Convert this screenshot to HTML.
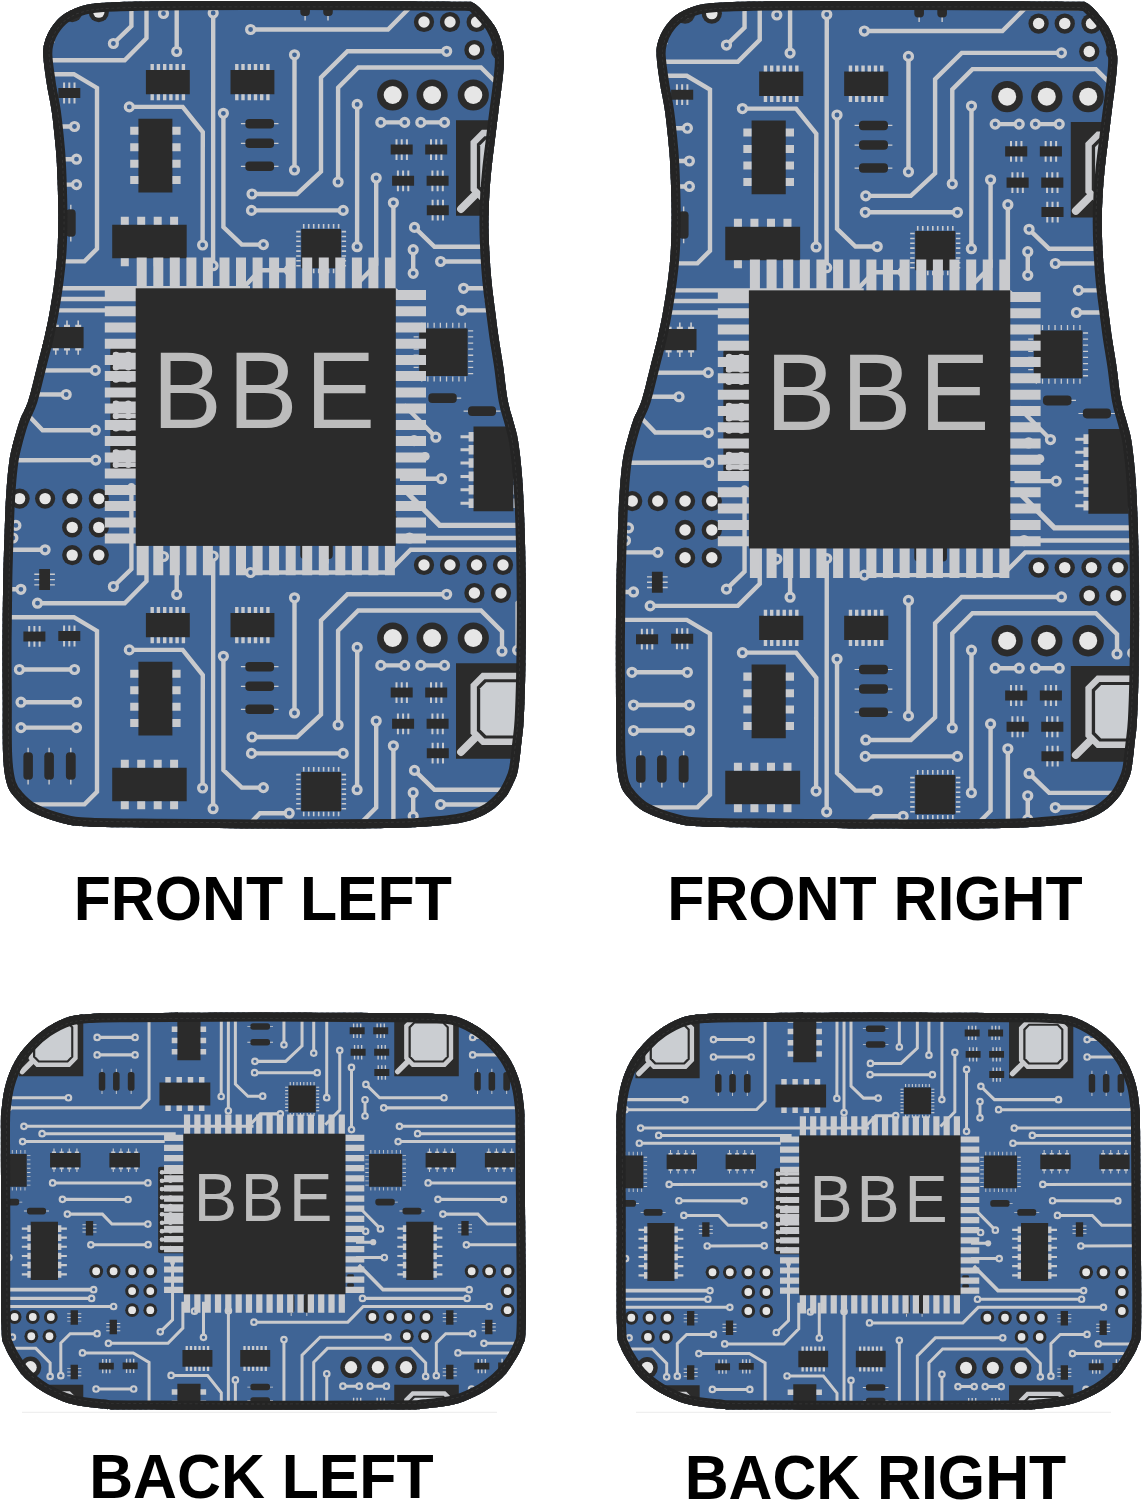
<!DOCTYPE html><html><head><meta charset="utf-8"><title>Car mats</title>
<style>html,body{margin:0;padding:0;background:#fff}svg{display:block}text{font-family:"Liberation Sans",sans-serif}</style></head><body>
<svg width="1142" height="1500" viewBox="0 0 1142 1500">
<defs>
<path id="fo" d="M100,3.1C110.5,2.2 127,1.9 142,1.6C157,1.3 168.1,1.2 190,1.1C211.9,1 245.7,1 273.5,1C301.3,1 332.6,1 357,1.1C381.4,1.2 402,1.3 420,1.4C438,1.5 456.2,1.5 465,1.7C473.8,1.9 470.3,1.6 472.5,2.4C474.7,3.2 475.7,4.1 478,6.3C480.3,8.5 483.7,12 486.5,15.4C489.3,18.8 492.6,22.6 494.9,26.6C497.2,30.6 499.1,34.8 500.5,39.2C501.9,43.6 503.1,48.7 503.6,53.2C504.2,57.7 504.1,60.9 503.8,66C503.5,71.1 502.9,76.3 502,84C501.1,91.7 499.6,102.7 498.4,112C497.2,121.3 496,130.7 494.9,140C493.8,149.3 492.4,158.8 491.5,168C490.6,177.2 489.8,186 489.3,195C488.8,204 488.5,212.8 488.5,222C488.5,231.2 488.8,240.3 489.3,250C489.8,259.7 490.4,270 491.4,280C492.3,290 493.8,300.7 495,310C496.2,319.3 497.1,326.8 498.4,336C499.7,345.2 501.4,354.3 503,365C504.6,375.7 505.9,390.5 507.7,400C509.4,409.5 511.7,414.9 513.5,422C515.3,429.1 516.9,432.2 518.4,442.7C519.9,453.2 521.6,467.3 522.7,485C523.8,502.7 524.7,527.7 525.2,549C525.7,570.3 525.9,591.7 525.9,613C525.9,634.3 525.6,659.2 525.2,677C524.8,694.8 524.3,709.2 523.7,720C523.1,730.8 522.5,733.7 521.5,742C520.5,750.3 519.4,763 518,770C516.6,777 515.2,779.3 513,784C510.8,788.7 508.7,793.3 504.7,798C500.7,802.7 495.8,808 489,812C482.2,816 475.2,819.5 464,822C452.8,824.5 436,825.8 422,826.8C408,827.8 404.5,827.9 380,828.2C355.5,828.5 311.7,828.7 275,828.6C238.3,828.5 190.7,828.1 160,827.8C129.3,827.5 107.2,827.5 91,826.8C74.8,826 72.8,825.8 63,823.3C53.2,820.8 39.9,816.2 32,812C24.1,807.8 19.6,802.7 15.4,798C11.2,793.3 9.1,791 7,784C4.9,777 3.8,770 3.1,756C2.4,742 2.8,719.3 2.7,700C2.6,680.7 2.4,660 2.5,640C2.6,620 2.8,600 3.2,580C3.6,560 4.5,535 5,520C5.5,505 5.8,500 6.5,490C7.2,480 8.2,468.3 9.5,460C10.8,451.7 12.2,446.7 14,440C15.8,433.3 17.6,426.7 20,420C22.4,413.3 25.6,409.2 28.5,400C31.4,390.8 34.8,375.7 37.5,365C40.2,354.3 42.7,345.2 44.8,336C46.9,326.8 48.4,319.3 50,310C51.6,300.7 53.4,290 54.6,280C55.9,270 56.9,260.8 57.5,250C58.1,239.2 58.3,226.7 58.3,215C58.3,203.3 57.9,190.8 57.5,180C57.1,169.2 56.9,161.3 55.9,150C54.9,138.7 53.3,123 51.8,112C50.3,101 48.2,93.3 46.8,84C45.4,74.7 43.6,63 43.3,56C42.9,49 43.4,46.7 44.7,42C46,37.3 48.1,32.4 51,28C53.9,23.6 57.5,18.9 62.2,15.4C66.9,11.9 72.7,9.1 79,7C85.3,4.9 89.5,4 100,3.1Z"/>
<path id="bo" d="M130,1013.1C158.7,1012.9 218.7,1012.5 263,1012.5C307.3,1012.5 367.3,1012.9 396,1013.1C424.7,1013.3 424.7,1013.2 435,1013.9C445.3,1014.5 450.1,1014.6 457.7,1017C465.3,1019.4 473.9,1024.1 480.5,1028.5C487.1,1032.9 492.4,1037.8 497.5,1043.3C502.6,1048.8 507.4,1054.7 511.2,1061.5C515,1068.3 518.2,1076.5 520.3,1084.2C522.4,1092 523.3,1100.4 524,1108C524.7,1115.6 524.4,1111.3 524.6,1130C524.8,1148.7 525,1187.7 525.2,1220C525.4,1252.3 526.3,1302.8 525.8,1324C525.3,1345.2 524.8,1339.4 522,1347C519.2,1354.6 512.7,1364 508.8,1369.7C504.9,1375.4 502.9,1377.2 498.5,1381C494.1,1384.8 489.6,1388.6 482.6,1392.4C475.6,1396.2 466.1,1401.1 456.4,1403.8C446.7,1406.5 434.5,1407.5 424.6,1408.4C414.7,1409.4 423.9,1409.3 397,1409.5C370.1,1409.7 307.5,1409.8 263,1409.8C218.5,1409.8 156.8,1409.7 130,1409.5C103.2,1409.3 112.3,1409.4 102.4,1408.4C92.5,1407.5 80.3,1406.5 70.6,1403.8C60.9,1401.1 51.4,1396.2 44.4,1392.4C37.4,1388.6 32.9,1384.8 28.5,1381C24.1,1377.2 22.1,1375.4 18.2,1369.7C14.3,1364 7.8,1354.6 5,1347C2.2,1339.4 2,1345.2 1.4,1324C0.8,1302.8 1.3,1252.3 1.2,1220C1.1,1187.7 0.8,1148.7 0.9,1130C1,1111.3 0.9,1115.6 1.7,1108C2.5,1100.4 3.5,1092 5.7,1084.2C7.9,1076.5 11,1068.3 14.8,1061.5C18.6,1054.7 23.4,1048.8 28.5,1043.3C33.6,1037.8 38.9,1032.9 45.5,1028.5C52.1,1024.1 60.7,1019.4 68.3,1017C75.9,1014.6 80.7,1014.5 91,1013.9C101.3,1013.2 101.3,1013.3 130,1013.1Z"/>
<clipPath id="cf"><use href="#fo"/></clipPath>
<clipPath id="cb"><use href="#bo"/></clipPath>
<g id="tile"><path d="M113.4,43.5L131.4,26L131.4,-56M37.5,60.2L124.7,60.2L146.5,38.2L146.5,0M176.7,51.5L176.7,0M213.2,13L213.1,265.7M250.6,29.5L388,29.5L410.6,6.8L594.9,6.8M294.5,54.8L294.5,170M446.7,51.3L347.5,51.3L321,77.5L321,171.5L296.9,194L252,194M338.1,182L338.1,87.7L358.2,67.5L481,67.5L502,88.5L502,108.2M357.2,104.4L357.1,246.7M380.8,122.4L404.7,122.4M420.8,122.4L444.5,122.4M376.2,178L376.2,264.6L355,286M393.4,202.8L393.4,293M414.5,227.4L434.5,246.8L528.8,246.8M413.2,249.7L413.2,273.3M440.6,261.5L634.3,261.3L646.8,248.8L646.8,87.9L623.7,74.2L549.3,74.2M463.6,288.3L799.8,288.3M490.2,299L685.8,299M461.7,310.4L669.8,310.4M505.6,370.5L645.1,370.4M520,394.3L616,394.5M527.2,415.7L578.5,415.7L592.4,430.2L645.1,430.2M561.6,460.3L645.5,460.1M409.5,538L562.7,538M570.7,46.3L531.3,46.3L517.6,59.8L517.6,107.2M19.4,126.5L74.5,126.5M21,159.2L76.5,159.2M21,184.6L76.5,184.6M129.3,106.9L182.7,106.9L202.8,132L202.6,245M223.4,113.3L223.4,227L241.8,244.6L263.4,244.6M251.5,210.4L343.2,210.4M289.2,270.2L259.9,270.2L244,287M435.8,437.2L404,405M441.5,478.7L400,478.7M400,456.4L425.2,456.4" fill="none" stroke="#c9cacd" stroke-width="4.4" stroke-linejoin="miter"/><path d="M404,489.5L439.7,525.4L565.7,525.4" fill="none" stroke="#c9cacd" stroke-width="5.3" stroke-linejoin="miter"/><g fill="#3f6495" stroke="#c9cacd" stroke-width="3.2"><circle cx="113.4" cy="43.5" r="4"/><circle cx="37.5" cy="60.2" r="4"/><circle cx="163.5" cy="13.5" r="4"/><circle cx="176.7" cy="51.5" r="4"/><circle cx="213.2" cy="13" r="4"/><circle cx="213.1" cy="265.7" r="4"/><circle cx="250.6" cy="29.5" r="4"/><circle cx="594.9" cy="6.8" r="4"/><circle cx="294.5" cy="54.8" r="4"/><circle cx="294.5" cy="170" r="4"/><circle cx="446.7" cy="51.3" r="4"/><circle cx="252" cy="194" r="4"/><circle cx="338.1" cy="182" r="4"/><circle cx="502" cy="108.2" r="4"/><circle cx="357.2" cy="104.4" r="4"/><circle cx="357.1" cy="246.7" r="4"/><circle cx="380.8" cy="122.4" r="4"/><circle cx="404.7" cy="122.4" r="4"/><circle cx="420.8" cy="122.4" r="4"/><circle cx="444.5" cy="122.4" r="4"/><circle cx="376.2" cy="178" r="4"/><circle cx="393.4" cy="202.8" r="4"/><circle cx="393.4" cy="293" r="4"/><circle cx="414.5" cy="227.4" r="4"/><circle cx="528.8" cy="246.8" r="4"/><circle cx="413.2" cy="249.7" r="4"/><circle cx="413.2" cy="273.3" r="4"/><circle cx="440.6" cy="261.5" r="4"/><circle cx="549.3" cy="74.2" r="4"/><circle cx="463.6" cy="288.3" r="4"/><circle cx="490.2" cy="299" r="4"/><circle cx="461.7" cy="310.4" r="4"/><circle cx="505.6" cy="370.5" r="4"/><circle cx="645.1" cy="370.4" r="4"/><circle cx="520" cy="394.3" r="4"/><circle cx="616" cy="394.5" r="4"/><circle cx="527.2" cy="415.7" r="4"/><circle cx="645.1" cy="430.2" r="4"/><circle cx="561.6" cy="460.3" r="4"/><circle cx="645.5" cy="460.1" r="4"/><circle cx="565.7" cy="525.4" r="4"/><circle cx="409.5" cy="538" r="4"/><circle cx="562.7" cy="538" r="4"/><circle cx="570.7" cy="46.3" r="4"/><circle cx="517.6" cy="107.2" r="4"/><circle cx="19.4" cy="126.5" r="4"/><circle cx="74.5" cy="126.5" r="4"/><circle cx="21" cy="159.2" r="4"/><circle cx="76.5" cy="159.2" r="4"/><circle cx="21" cy="184.6" r="4"/><circle cx="76.5" cy="184.6" r="4"/><circle cx="129.3" cy="106.9" r="4"/><circle cx="202.6" cy="245" r="4"/><circle cx="223.4" cy="113.3" r="4"/><circle cx="263.4" cy="244.6" r="4"/><circle cx="251.5" cy="210.4" r="4"/><circle cx="343.2" cy="210.4" r="4"/><circle cx="289.2" cy="270.2" r="4"/><circle cx="435.8" cy="437.2" r="4"/><circle cx="441.5" cy="478.7" r="4"/><circle cx="414.1" cy="440.6" r="4"/></g><g fill="#2b2b2b"><path d="M145.9,70h43.9v24.3h-43.9zM230.5,70h43.9v24.3h-43.9zM138.4,118.8h34v73.6h-34zM112.2,224.8h74.5v33.4h-74.5zM390.7,144.6h22v10h-22zM425.2,144.6h22v10h-22zM392.1,175.8h22v10h-22zM426.6,175.8h22v10h-22zM426.8,205.2h22v10h-22zM58.3,88h22v10h-22zM23.4,88.4h22v10h-22zM39.2,569.1h10.8v21h-10.8zM531.9,555.2h10.8v21h-10.8zM554.2,425.8h10.8v21h-10.8zM531.9,91.4h10.8v21h-10.8zM456,120.3h94.5v95.4h-94.5zM301.2,229.1h39.9v39.1h-39.9zM419.2,328.4h48.4v47.6h-48.4zM473.5,426.6h40v84.7h-40zM501.9,326.9h44.7v21.3h-44.7zM588.7,326.9h44.7v21.3h-44.7z"/><circle cx="392.7" cy="95" r="15.6"/><circle cx="432.1" cy="95" r="15.6"/><circle cx="473.3" cy="95" r="15.6"/><circle cx="19.6" cy="498.6" r="10.1"/><circle cx="45.1" cy="498.6" r="10.1"/><circle cx="72.2" cy="498.6" r="10.1"/><circle cx="98.8" cy="498.6" r="10.1"/><circle cx="72.2" cy="527.4" r="10.1"/><circle cx="98.8" cy="527.4" r="10.1"/><circle cx="72.2" cy="555.1" r="10.1"/><circle cx="98.8" cy="555.1" r="10.1"/><circle cx="424" cy="22" r="10.1"/><circle cx="450" cy="22" r="10.1"/><circle cx="476.6" cy="22" r="10.1"/><circle cx="503" cy="22" r="10.1"/><circle cx="474.4" cy="50" r="10.1"/><circle cx="501" cy="50" r="10.1"/><rect x="245.3" y="119" width="28.8" height="9.4" rx="3.9"/><rect x="245.3" y="138.5" width="28.8" height="9.5" rx="4"/><rect x="245.3" y="161.5" width="28.8" height="9.5" rx="4"/><rect x="428.3" y="393.3" width="28.5" height="9.8" rx="4.1"/><rect x="468" y="406.3" width="28" height="9.8" rx="4.1"/><rect x="23.4" y="209.3" width="9.5" height="27.5" rx="4"/><rect x="44.3" y="209.3" width="9.6" height="27.5" rx="4"/><rect x="65.9" y="209.3" width="9.8" height="27.5" rx="4.1"/><rect x="300.3" y="-11.5" width="9.6" height="27.5" rx="4"/><rect x="323.2" y="-11.5" width="9.6" height="27.5" rx="4"/><rect x="110.3" y="347" width="41" height="125.5" rx="3"/><rect x="387" y="503" width="10" height="5.4" rx="2"/><rect x="387" y="516.2" width="10" height="5.4" rx="2"/></g><path d="M150.5,64h3.4v6h-3.4zM150.5,94.3h3.4v6h-3.4zM156.7,64h3.4v6h-3.4zM156.7,94.3h3.4v6h-3.4zM163,64h3.4v6h-3.4zM163,94.3h3.4v6h-3.4zM169.2,64h3.4v6h-3.4zM169.2,94.3h3.4v6h-3.4zM175.4,64h3.4v6h-3.4zM175.4,94.3h3.4v6h-3.4zM181.7,64h3.4v6h-3.4zM181.7,94.3h3.4v6h-3.4zM235.1,64h3.4v6h-3.4zM235.1,94.3h3.4v6h-3.4zM241.3,64h3.4v6h-3.4zM241.3,94.3h3.4v6h-3.4zM247.6,64h3.4v6h-3.4zM247.6,94.3h3.4v6h-3.4zM253.8,64h3.4v6h-3.4zM253.8,94.3h3.4v6h-3.4zM260,64h3.4v6h-3.4zM260,94.3h3.4v6h-3.4zM266.2,64h3.4v6h-3.4zM266.2,94.3h3.4v6h-3.4zM130.2,126.8h8.2v8h-8.2zM172.4,126.8h8.2v8h-8.2zM130.2,143.3h8.2v8h-8.2zM172.4,143.3h8.2v8h-8.2zM130.2,159.7h8.2v8h-8.2zM172.4,159.7h8.2v8h-8.2zM130.2,176.1h8.2v8h-8.2zM172.4,176.1h8.2v8h-8.2zM120.8,216.8h8v8h-8zM120.8,258.2h8v8h-8zM137.2,216.8h8v8h-8zM137.2,258.2h8v8h-8zM153.7,216.8h8v8h-8zM153.7,258.2h8v8h-8zM170.1,216.8h8v8h-8zM170.1,258.2h8v8h-8zM240.9,123.1h4.4v1.2h-4.4zM274.1,123.1h4.4v1.2h-4.4zM240.9,142.7h4.4v1.2h-4.4zM274.1,142.7h4.4v1.2h-4.4zM240.9,165.7h4.4v1.2h-4.4zM274.1,165.7h4.4v1.2h-4.4zM456.8,397.6h4.4v1.2h-4.4zM463.6,410.6h4.4v1.2h-4.4zM496,410.6h4.4v1.2h-4.4zM27.4,204.7h1.4v4.6h-1.4zM27.4,236.8h1.4v4.6h-1.4zM48.4,204.7h1.4v4.6h-1.4zM48.4,236.8h1.4v4.6h-1.4zM70.1,204.7h1.4v4.6h-1.4zM70.1,236.8h1.4v4.6h-1.4zM304.4,-16.1h1.4v4.6h-1.4zM304.4,16h1.4v4.6h-1.4zM327.3,-16.1h1.4v4.6h-1.4zM327.3,16h1.4v4.6h-1.4zM395.5,139.2h2v5.4h-2zM395.5,154.6h2v5.4h-2zM400.7,139.2h2v5.4h-2zM400.7,154.6h2v5.4h-2zM405.9,139.2h2v5.4h-2zM405.9,154.6h2v5.4h-2zM430,139.2h2v5.4h-2zM430,154.6h2v5.4h-2zM435.2,139.2h2v5.4h-2zM435.2,154.6h2v5.4h-2zM440.4,139.2h2v5.4h-2zM440.4,154.6h2v5.4h-2zM396.9,170.4h2v5.4h-2zM396.9,185.8h2v5.4h-2zM402.1,170.4h2v5.4h-2zM402.1,185.8h2v5.4h-2zM407.3,170.4h2v5.4h-2zM407.3,185.8h2v5.4h-2zM431.4,170.4h2v5.4h-2zM431.4,185.8h2v5.4h-2zM436.6,170.4h2v5.4h-2zM436.6,185.8h2v5.4h-2zM441.8,170.4h2v5.4h-2zM441.8,185.8h2v5.4h-2zM431.6,199.8h2v5.4h-2zM431.6,215.2h2v5.4h-2zM436.8,199.8h2v5.4h-2zM436.8,215.2h2v5.4h-2zM442,199.8h2v5.4h-2zM442,215.2h2v5.4h-2zM63.1,82.6h2v5.4h-2zM63.1,98h2v5.4h-2zM68.3,82.6h2v5.4h-2zM68.3,98h2v5.4h-2zM73.5,82.6h2v5.4h-2zM73.5,98h2v5.4h-2zM28.2,83h2v5.4h-2zM28.2,98.4h2v5.4h-2zM33.4,83h2v5.4h-2zM33.4,98.4h2v5.4h-2zM38.6,83h2v5.4h-2zM38.6,98.4h2v5.4h-2zM34.3,573.6h4.9v1.4h-4.9zM50,573.6h4.9v1.4h-4.9zM34.3,578.9h4.9v1.4h-4.9zM50,578.9h4.9v1.4h-4.9zM34.3,584.2h4.9v1.4h-4.9zM50,584.2h4.9v1.4h-4.9zM527,559.7h4.9v1.4h-4.9zM542.7,559.7h4.9v1.4h-4.9zM527,565h4.9v1.4h-4.9zM542.7,565h4.9v1.4h-4.9zM527,570.3h4.9v1.4h-4.9zM542.7,570.3h4.9v1.4h-4.9zM549.3,430.3h4.9v1.4h-4.9zM565,430.3h4.9v1.4h-4.9zM549.3,435.6h4.9v1.4h-4.9zM565,435.6h4.9v1.4h-4.9zM549.3,440.9h4.9v1.4h-4.9zM565,440.9h4.9v1.4h-4.9zM527,95.9h4.9v1.4h-4.9zM542.7,95.9h4.9v1.4h-4.9zM527,101.2h4.9v1.4h-4.9zM542.7,101.2h4.9v1.4h-4.9zM527,106.5h4.9v1.4h-4.9zM542.7,106.5h4.9v1.4h-4.9zM302.9,224.1h1.6v4.4h-1.6zM302.9,268.8h1.6v4.4h-1.6zM307.9,224.1h1.6v4.4h-1.6zM307.9,268.8h1.6v4.4h-1.6zM312.9,224.1h1.6v4.4h-1.6zM312.9,268.8h1.6v4.4h-1.6zM317.9,224.1h1.6v4.4h-1.6zM317.9,268.8h1.6v4.4h-1.6zM322.8,224.1h1.6v4.4h-1.6zM322.8,268.8h1.6v4.4h-1.6zM327.8,224.1h1.6v4.4h-1.6zM327.8,268.8h1.6v4.4h-1.6zM332.8,224.1h1.6v4.4h-1.6zM332.8,268.8h1.6v4.4h-1.6zM337.8,224.1h1.6v4.4h-1.6zM337.8,268.8h1.6v4.4h-1.6zM296.2,230.8h4.4v1.6h-4.4zM341.7,230.8h4.4v1.6h-4.4zM296.2,235.7h4.4v1.6h-4.4zM341.7,235.7h4.4v1.6h-4.4zM296.2,240.5h4.4v1.6h-4.4zM341.7,240.5h4.4v1.6h-4.4zM296.2,245.4h4.4v1.6h-4.4zM341.7,245.4h4.4v1.6h-4.4zM296.2,250.3h4.4v1.6h-4.4zM341.7,250.3h4.4v1.6h-4.4zM296.2,255.2h4.4v1.6h-4.4zM341.7,255.2h4.4v1.6h-4.4zM296.2,260h4.4v1.6h-4.4zM341.7,260h4.4v1.6h-4.4zM296.2,264.9h4.4v1.6h-4.4zM341.7,264.9h4.4v1.6h-4.4zM421.1,322.8h1.3v5h-1.3zM421.1,376.6h1.3v5h-1.3zM427.2,322.8h1.3v5h-1.3zM427.2,376.6h1.3v5h-1.3zM433.5,322.8h1.3v5h-1.3zM433.5,376.6h1.3v5h-1.3zM439.7,322.8h1.3v5h-1.3zM439.7,376.6h1.3v5h-1.3zM445.9,322.8h1.3v5h-1.3zM445.9,376.6h1.3v5h-1.3zM452.1,322.8h1.3v5h-1.3zM452.1,376.6h1.3v5h-1.3zM458.3,322.8h1.3v5h-1.3zM458.3,376.6h1.3v5h-1.3zM464.5,322.8h1.3v5h-1.3zM464.5,376.6h1.3v5h-1.3zM413.6,330.2h5v1.3h-5zM468.2,330.2h5v1.3h-5zM413.6,336.3h5v1.3h-5zM468.2,336.3h5v1.3h-5zM413.6,342.4h5v1.3h-5zM468.2,342.4h5v1.3h-5zM413.6,348.5h5v1.3h-5zM468.2,348.5h5v1.3h-5zM413.6,354.6h5v1.3h-5zM468.2,354.6h5v1.3h-5zM413.6,360.7h5v1.3h-5zM468.2,360.7h5v1.3h-5zM413.6,366.8h5v1.3h-5zM468.2,366.8h5v1.3h-5zM413.6,372.9h5v1.3h-5zM468.2,372.9h5v1.3h-5zM460.5,435.3h13v3h-13zM468.6,432h4.9v9.6h-4.9zM513.5,435.3h13v3h-13zM513.5,432h4.9v9.6h-4.9zM460.5,448.3h13v3h-13zM468.6,445h4.9v9.6h-4.9zM513.5,448.3h13v3h-13zM513.5,445h4.9v9.6h-4.9zM460.5,461.5h13v3h-13zM468.6,458.2h4.9v9.6h-4.9zM513.5,461.5h13v3h-13zM513.5,458.2h4.9v9.6h-4.9zM460.5,474.9h13v3h-13zM468.6,471.6h4.9v9.6h-4.9zM513.5,474.9h13v3h-13zM513.5,471.6h4.9v9.6h-4.9zM460.5,488.2h13v3h-13zM468.6,484.9h4.9v9.6h-4.9zM513.5,488.2h13v3h-13zM513.5,484.9h4.9v9.6h-4.9zM460.5,501.7h13v3h-13zM468.6,498.4h4.9v9.6h-4.9zM513.5,501.7h13v3h-13zM513.5,498.4h4.9v9.6h-4.9zM506.8,320.4h1.6v6.5h-1.6zM504.6,324.7h6v2.2h-6zM506.8,348.2h1.6v6.5h-1.6zM504.6,348.2h6v2.2h-6zM518,320.4h1.6v6.5h-1.6zM515.8,324.7h6v2.2h-6zM518,348.2h1.6v6.5h-1.6zM515.8,348.2h6v2.2h-6zM529.2,320.4h1.6v6.5h-1.6zM527,324.7h6v2.2h-6zM529.2,348.2h1.6v6.5h-1.6zM527,348.2h6v2.2h-6zM540.4,320.4h1.6v6.5h-1.6zM538.2,324.7h6v2.2h-6zM540.4,348.2h1.6v6.5h-1.6zM538.2,348.2h6v2.2h-6zM593.6,320.4h1.6v6.5h-1.6zM591.4,324.7h6v2.2h-6zM593.6,348.2h1.6v6.5h-1.6zM591.4,348.2h6v2.2h-6zM604.8,320.4h1.6v6.5h-1.6zM602.6,324.7h6v2.2h-6zM604.8,348.2h1.6v6.5h-1.6zM602.6,348.2h6v2.2h-6zM616,320.4h1.6v6.5h-1.6zM613.8,324.7h6v2.2h-6zM616,348.2h1.6v6.5h-1.6zM613.8,348.2h6v2.2h-6zM627.2,320.4h1.6v6.5h-1.6zM625,324.7h6v2.2h-6zM627.2,348.2h1.6v6.5h-1.6zM625,348.2h6v2.2h-6zM113,352.7h37v4.6h-37zM113,364.9h37v4.6h-37zM113,377.1h37v4.6h-37zM113,389.3h37v4.6h-37zM113,401.5h37v4.6h-37zM113,413.7h37v4.6h-37zM113,425.9h37v4.6h-37zM113,438.1h37v4.6h-37zM113,450.3h37v4.6h-37zM113,462.5h37v4.6h-37z" fill="#c9cacd"/><circle cx="131.4" cy="-56.5" r="3.6" fill="#c9cacd"/><circle cx="425.2" cy="456.4" r="4.5" fill="#c9cacd"/><circle cx="392.7" cy="95" r="9" fill="#e6e6e6"/><circle cx="432.1" cy="95" r="9" fill="#e6e6e6"/><circle cx="473.3" cy="95" r="9" fill="#e6e6e6"/><circle cx="19.6" cy="498.6" r="5.7" fill="#e6e6e6"/><circle cx="45.1" cy="498.6" r="5.7" fill="#e6e6e6"/><circle cx="72.2" cy="498.6" r="5.7" fill="#e6e6e6"/><circle cx="98.8" cy="498.6" r="5.7" fill="#e6e6e6"/><circle cx="72.2" cy="527.4" r="5.7" fill="#e6e6e6"/><circle cx="98.8" cy="527.4" r="5.7" fill="#e6e6e6"/><circle cx="72.2" cy="555.1" r="5.7" fill="#e6e6e6"/><circle cx="98.8" cy="555.1" r="5.7" fill="#e6e6e6"/><circle cx="424" cy="22" r="5.7" fill="#e6e6e6"/><circle cx="450" cy="22" r="5.7" fill="#e6e6e6"/><circle cx="476.6" cy="22" r="5.7" fill="#e6e6e6"/><circle cx="503" cy="22" r="5.7" fill="#e6e6e6"/><circle cx="474.4" cy="50" r="5.7" fill="#e6e6e6"/><circle cx="501" cy="50" r="5.7" fill="#e6e6e6"/><path d="M483.2,133L529.6,133L539.1,142.5L539.1,189.3L529.6,198.8L483.2,198.8L473.7,189.3L473.7,142.5Z" fill="none" stroke="#c9cacd" stroke-width="6.4" stroke-linejoin="miter"/><path d="M486.2,139.2L526.8,139.2L532.8,145.2L532.8,186.6L526.8,192.6L486.2,192.6L480.2,186.6L480.2,145.2Z" fill="#cbced2"/><path d="M476.5,736.5L461,752" transform="translate(0,-543)" stroke="#c9cacd" stroke-width="7.8" stroke-linecap="round"/><circle cx="116" cy="355" r="3.3" fill="#c9cacd"/><circle cx="128.3" cy="355" r="3.3" fill="#c9cacd"/><circle cx="116" cy="367.2" r="3.3" fill="#c9cacd"/><circle cx="128.3" cy="367.2" r="3.3" fill="#c9cacd"/><circle cx="116" cy="379.4" r="3.3" fill="#c9cacd"/><circle cx="128.3" cy="379.4" r="3.3" fill="#c9cacd"/><circle cx="116" cy="391.6" r="3.3" fill="#c9cacd"/><circle cx="128.3" cy="391.6" r="3.3" fill="#c9cacd"/><circle cx="116" cy="403.8" r="3.3" fill="#c9cacd"/><circle cx="128.3" cy="403.8" r="3.3" fill="#c9cacd"/><circle cx="116" cy="416" r="3.3" fill="#c9cacd"/><circle cx="128.3" cy="416" r="3.3" fill="#c9cacd"/><circle cx="116" cy="428.2" r="3.3" fill="#c9cacd"/><circle cx="128.3" cy="428.2" r="3.3" fill="#c9cacd"/><circle cx="116" cy="440.4" r="3.3" fill="#c9cacd"/><circle cx="128.3" cy="440.4" r="3.3" fill="#c9cacd"/><circle cx="116" cy="452.6" r="3.3" fill="#c9cacd"/><circle cx="128.3" cy="452.6" r="3.3" fill="#c9cacd"/><circle cx="116" cy="464.8" r="3.3" fill="#c9cacd"/><circle cx="128.3" cy="464.8" r="3.3" fill="#c9cacd"/></g>
<g id="ovl"><path d="M1,-30.9h10v31.5h-10zM1,257h10v30h-10zM-30.9,1.6h31.5v10h-31.5zM259.5,1.6h30.8v10h-30.8zM17.6,-30.9h10v31.5h-10zM17.6,257h10v30h-10zM-30.9,17.9h31.5v10h-31.5zM259.5,17.9h30.8v10h-30.8zM34.1,-30.9h10v31.5h-10zM34.1,257h10v30h-10zM-30.9,34.1h31.5v10h-31.5zM259.5,34.1h30.8v10h-30.8zM50.7,-30.9h10v31.5h-10zM50.7,257h10v30h-10zM-30.9,50.4h31.5v10h-31.5zM259.5,50.4h30.8v10h-30.8zM67.2,-30.9h10v31.5h-10zM67.2,257h10v30h-10zM-30.9,66.6h31.5v10h-31.5zM259.5,66.6h30.8v10h-30.8zM83.8,-30.9h10v31.5h-10zM83.8,257h10v30h-10zM-30.9,82.8h31.5v10h-31.5zM259.5,82.8h30.8v10h-30.8zM100.3,-30.9h10v31.5h-10zM100.3,257h10v30h-10zM-30.9,99.1h31.5v10h-31.5zM259.5,99.1h30.8v10h-30.8zM116.9,-30.9h10v31.5h-10zM116.9,257h10v30h-10zM-30.9,115.3h31.5v10h-31.5zM259.5,115.3h30.8v10h-30.8zM133.4,-30.9h10v31.5h-10zM133.4,257h10v30h-10zM-30.9,131.6h31.5v10h-31.5zM259.5,131.6h30.8v10h-30.8zM150,-30.9h10v31.5h-10zM150,257h10v30h-10zM-30.9,147.8h31.5v10h-31.5zM259.5,147.8h30.8v10h-30.8zM166.5,-30.9h10v31.5h-10zM166.5,257h10v30h-10zM-30.9,164.1h31.5v10h-31.5zM259.5,164.1h30.8v10h-30.8zM183.1,-30.9h10v31.5h-10zM183.1,257h10v30h-10zM-30.9,180.3h31.5v10h-31.5zM259.5,180.3h30.8v10h-30.8zM199.6,-30.9h10v31.5h-10zM199.6,257h10v30h-10zM-30.9,196.6h31.5v10h-31.5zM259.5,196.6h30.8v10h-30.8zM216.2,-30.9h10v31.5h-10zM216.2,257h10v30h-10zM-30.9,212.8h31.5v10h-31.5zM259.5,212.8h30.8v10h-30.8zM232.7,-30.9h10v31.5h-10zM232.7,257h10v30h-10zM-30.9,229.1h31.5v10h-31.5zM259.5,229.1h30.8v10h-30.8zM249.2,-30.9h10v31.5h-10zM249.2,257h10v30h-10zM-30.9,245.3h31.5v10h-31.5zM259.5,245.3h30.8v10h-30.8z" fill="#c9cacd"/><rect x="0" y="0" width="260.1" height="257.6" fill="#2b2b2b"/><g font-family="Liberation Sans, sans-serif" font-size="108.5" fill="#bcbcbc"><text transform="translate(16.6,139.3) scale(0.962,1)">B</text><text transform="translate(92.2,139.3) scale(0.962,1)">B</text><text transform="translate(169.7,139.3) scale(0.962,1)">E</text></g></g>
</defs>
<rect width="1142" height="1500" fill="#fff"/>
<path d="M22,1412.3H497" stroke="#ececec" stroke-width="1"/>
<path d="M636,1412.3H1111" stroke="#ececec" stroke-width="1"/>
<g transform="translate(0,0)">
<g clip-path="url(#cf)">
<rect x="0" y="0" width="530" height="832" fill="#3f6495"/>
<g transform="translate(0,0) matrix(1 0 0 1 0 0)">
<use href="#tile" transform="translate(-549.8,-543)"/>
<use href="#tile" transform="translate(-549.8,0)"/>
<use href="#tile" transform="translate(-549.8,543)"/>
<use href="#tile" transform="translate(0,-543)"/>
<use href="#tile" transform="translate(0,0)"/>
<use href="#tile" transform="translate(0,543)"/>
<use href="#ovl" transform="translate(135.7,288.3)"/>
</g>
<use href="#fo" fill="none" stroke="#242424" stroke-width="18.2"/>
<use href="#fo" fill="none" stroke="#363636" stroke-width="12.4" stroke-dasharray="3 2.6"/>
<use href="#fo" fill="none" stroke="#242424" stroke-width="10.8"/>
</g>
</g>
<g transform="translate(613.3,0)">
<g clip-path="url(#cf)">
<rect x="0" y="0" width="530" height="832" fill="#3f6495"/>
<g transform="translate(-613.3,0) matrix(1.005 0 0 1.002 612.5 1.47)">
<use href="#tile" transform="translate(-549.8,-543)"/>
<use href="#tile" transform="translate(-549.8,0)"/>
<use href="#tile" transform="translate(-549.8,543)"/>
<use href="#tile" transform="translate(0,-543)"/>
<use href="#tile" transform="translate(0,0)"/>
<use href="#tile" transform="translate(0,543)"/>
<use href="#ovl" transform="translate(135.7,288.3)"/>
</g>
<use href="#fo" fill="none" stroke="#242424" stroke-width="18.2"/>
<use href="#fo" fill="none" stroke="#363636" stroke-width="12.4" stroke-dasharray="3 2.6"/>
<use href="#fo" fill="none" stroke="#242424" stroke-width="10.8"/>
</g>
</g>
<g transform="translate(0,0)">
<g clip-path="url(#cb)">
<rect x="0" y="1010" width="530" height="402" fill="#3f6495"/>
<g transform="translate(0,0) matrix(1 0 0 1 0 0)">
<g transform="translate(82.8,927.7) scale(0.683,0.689)"><use href="#tile" transform="translate(-549.8,0)"/></g>
<g transform="translate(82.8,927.7) scale(0.683,0.689)"><use href="#tile" transform="translate(-549.8,543)"/></g>
<g transform="translate(82.8,927.7) scale(0.683,0.689)"><use href="#tile" transform="translate(0,0)"/></g>
<g transform="translate(82.8,927.7) scale(0.683,0.689)"><use href="#tile" transform="translate(0,543)"/></g>
<g transform="translate(82.8,927.7) scale(0.683,0.689)"><use href="#tile" transform="translate(549.8,0)"/></g>
<g transform="translate(82.8,927.7) scale(0.683,0.689)"><use href="#tile" transform="translate(549.8,543)"/></g>
<use href="#ovl" transform="translate(183.3,1133.7) scale(0.6235)"/>
</g>
<use href="#bo" fill="none" stroke="#242424" stroke-width="18.2"/>
<use href="#bo" fill="none" stroke="#363636" stroke-width="12.4" stroke-dasharray="3 2.6"/>
<use href="#bo" fill="none" stroke="#242424" stroke-width="10.8"/>
</g>
</g>
<g transform="translate(615.5,0)">
<g clip-path="url(#cb)">
<rect x="0" y="1010" width="530" height="402" fill="#3f6495"/>
<g transform="translate(-615.5,0) matrix(0.995 0 0 0.995 616.8 7.37)">
<g transform="translate(82.8,927.7) scale(0.683,0.689)"><use href="#tile" transform="translate(-549.8,0)"/></g>
<g transform="translate(82.8,927.7) scale(0.683,0.689)"><use href="#tile" transform="translate(-549.8,543)"/></g>
<g transform="translate(82.8,927.7) scale(0.683,0.689)"><use href="#tile" transform="translate(0,0)"/></g>
<g transform="translate(82.8,927.7) scale(0.683,0.689)"><use href="#tile" transform="translate(0,543)"/></g>
<g transform="translate(82.8,927.7) scale(0.683,0.689)"><use href="#tile" transform="translate(549.8,0)"/></g>
<g transform="translate(82.8,927.7) scale(0.683,0.689)"><use href="#tile" transform="translate(549.8,543)"/></g>
<use href="#ovl" transform="translate(183.3,1133.7) scale(0.6235)"/>
</g>
<use href="#bo" fill="none" stroke="#242424" stroke-width="18.2"/>
<use href="#bo" fill="none" stroke="#363636" stroke-width="12.4" stroke-dasharray="3 2.6"/>
<use href="#bo" fill="none" stroke="#242424" stroke-width="10.8"/>
</g>
</g>
<text transform="translate(262.8,920.3) scale(0.953,1)" font-weight="700" font-size="63.8" fill="#000" text-anchor="middle">FRONT LEFT</text>
<text transform="translate(875,920.4) scale(0.953,1)" font-weight="700" font-size="63.8" fill="#000" text-anchor="middle">FRONT RIGHT</text>
<text transform="translate(261.4,1498.3) scale(0.953,1)" font-weight="700" font-size="63.8" fill="#000" text-anchor="middle">BACK LEFT</text>
<text transform="translate(875.4,1498.6) scale(0.953,1)" font-weight="700" font-size="63.8" fill="#000" text-anchor="middle">BACK RIGHT</text>
</svg></body></html>
